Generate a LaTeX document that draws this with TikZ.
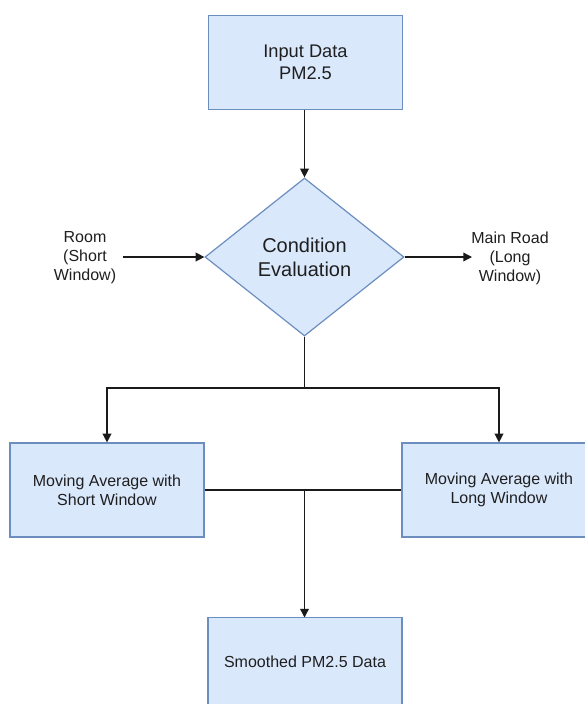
\documentclass[tikz,border=0pt]{standalone}
\usepackage{fontspec}
\setmainfont{Liberation Sans}
\usetikzlibrary{shapes.geometric,arrows.meta}
\definecolor{boxfill}{HTML}{DAE8FC}
\definecolor{boxline}{HTML}{6C8EBF}
\definecolor{lineC}{HTML}{1A1A1A}
\begin{document}
\begin{tikzpicture}[x=0.75pt,y=-0.75pt,
  blok/.style={draw=boxline,fill=boxfill,line width=0.9pt,minimum width=145.5pt,minimum height=70.5pt,inner sep=0pt,align=center,text=black!88},
  decis/.style={diamond,draw=boxline,fill=boxfill,line width=0.9pt,minimum width=149.25pt,minimum height=118.5pt,inner sep=0pt,aspect=1.26,align=center,font=\fontsize{15}{18}\selectfont,text=black!88},
  lbl/.style={align=center,font=\fontsize{12}{14.25}\selectfont,text=black!88},
  conn/.style={draw=lineC,line width=1pt},
  arr/.style={conn,-{Triangle[length=6.5pt,width=6.5pt]}}]
\useasboundingbox (0,0) rectangle (585,704);
\fill[white] (0,0) rectangle (585,704);
\node[blok,font=\fontsize{13.7}{16.5}\selectfont] (inp) at (305.5,62.5) {Input Data\\PM2.5};
\node[decis] (cond) at (304.5,257) {Condition\\Evaluation};
\node[lbl] (room) at (85,258) {Room\\(Short\\Window)};
\node[lbl] (road) at (510,258) {Main Road\\(Long\\Window)};
\node[blok,font=\fontsize{12}{14.25}\selectfont] (short) at (107,490) {Moving Average with\\Short Window};
\node[blok,font=\fontsize{12}{14.25}\selectfont] (long) at (499,490) {Moving Average with\\Long Window};
\node[blok,minimum height=71pt] (smooth) at (305,664.5) {};
\node[lbl] (smoothtxt) at (305,662) {Smoothed PM2.5 Data};
\coordinate (inpout) at (304.5,109.5);
\coordinate (roomend) at (123,257);
\coordinate (roadend) at (472,257);
\coordinate (split) at (304.5,388);
\coordinate (join) at (304.5,490);
\coordinate (smoothin) at (304.5,617.5);
\draw[arr] (inpout) -- (cond.north);
\draw[arr] (roomend) -- (cond.west);
\draw[arr] (cond.east) -- (roadend);
\draw[conn] (cond.south) -- (split);
\draw[arr] (split) -| (short.north);
\draw[arr] (split) -| (long.north);
\draw[conn] (short.east) -- (long.west);
\draw[arr] (join) -- (smoothin);
\end{tikzpicture}
\end{document}
